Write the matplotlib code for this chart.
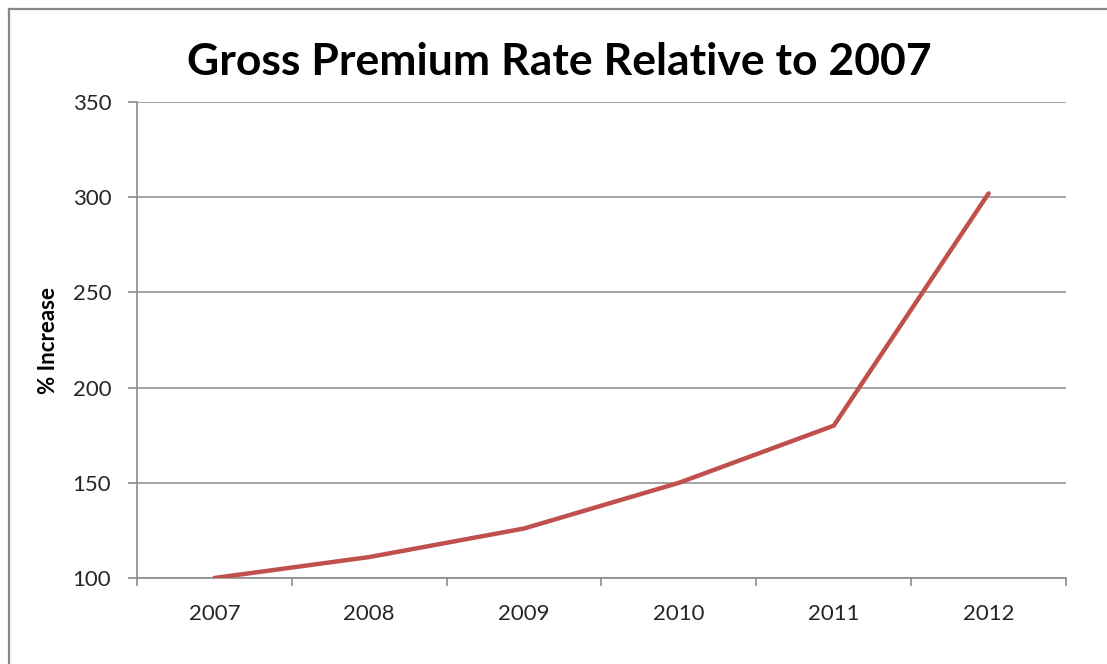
import numpy as np
import matplotlib.pyplot as plt
from matplotlib.lines import Line2D

years = ['2007', '2008', '2009', '2010', '2011', '2012']
rate = [100, 111, 126, 150, 180, 302]
yticks = [100, 150, 200, 250, 300, 350]

plt.rcParams['font.family'] = ['Lato', 'DejaVu Sans']
grey = '#8c8c8c'
text_color = '#262626'

fig = plt.figure(figsize=(11.07, 6.64), dpi=100)
ax = fig.add_axes([137 / 1107, 1 - 578 / 664, (1066 - 137) / 1107, (578 - 102) / 664])

# outer chart frame: only the left and top edges fall inside the image
fx, fy = 8.5 / 1107, 1 - 8.5 / 664
fig.lines.append(Line2D([fx, fx], [0, fy], transform=fig.transFigure,
                        color='#888888', linewidth=1.6))
fig.lines.append(Line2D([fx, 1], [fy, fy], transform=fig.transFigure,
                        color='#888888', linewidth=1.6))

x = np.arange(len(years))
ax.plot(x, rate, color='#C0504D', linewidth=3.2, solid_capstyle='round',
        solid_joinstyle='round', zorder=3)

ax.set_xlim(-0.5, len(years) - 0.5)
ax.set_ylim(100, 350)
ax.set_yticks(yticks)
ax.set_yticklabels([str(v) for v in yticks])

# category boundaries get the tick marks, centres get the labels
ax.set_xticks(np.arange(-0.5, len(years)), labels=[''] * (len(years) + 1))
ax.set_xticks(x, labels=years, minor=True)
ax.tick_params(axis='x', which='minor', length=0, pad=19)
ax.tick_params(axis='x', which='major', length=6, width=1.2, color=grey)
ax.tick_params(axis='y', length=6.5, width=1.2, color=grey, pad=12)
ax.tick_params(axis='both', which='both', labelsize=16, labelcolor=text_color)

ax.grid(axis='y', color=grey, linewidth=1.1)
ax.set_axisbelow(True)
for side in ['top', 'right']:
    ax.spines[side].set_visible(False)
for side in ['left', 'bottom']:
    ax.spines[side].set_color(grey)
    ax.spines[side].set_linewidth(1.2)

ax.set_ylabel('% Increase', fontsize=16, fontweight='bold', color='black', labelpad=10)
fig.text(0.505, 1 - 62 / 664, 'Gross Premium Rate Relative to 2007', ha='center',
         va='center', fontsize=32, fontweight='bold', color='black')

fig.savefig('out.png', dpi=100)
